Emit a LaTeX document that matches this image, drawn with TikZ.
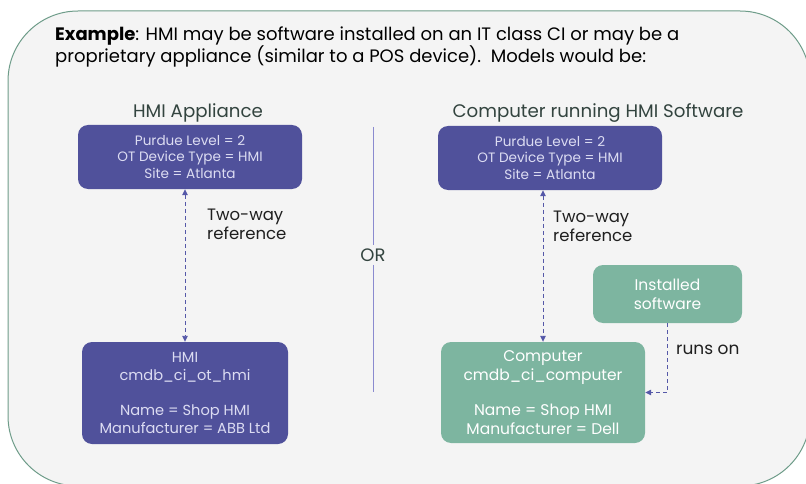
\documentclass[tikz,border=0pt]{standalone}
\usepackage{fontspec}
\setmainfont{Poppins}
\usetikzlibrary{positioning,arrows.meta}
\definecolor{frameline}{HTML}{6E9C89}
\definecolor{framefill}{HTML}{F4F4F4}
\definecolor{otpurple}{HTML}{50519B}
\definecolor{itgreen}{HTML}{7DB5A0}
\definecolor{otlabel}{HTML}{DCDCF2}
\definecolor{headgray}{HTML}{33443F}
\definecolor{linkblue}{HTML}{5558A8}
\definecolor{orline}{HTML}{8A8ACF}

\begin{document}
\begin{tikzpicture}[x=1pt,y=-1pt,
  otbox/.style={rounded corners=10pt,fill=otpurple,text=otlabel,align=center,inner sep=0pt},
  itbox/.style={rounded corners=10pt,fill=itgreen,text=white,align=center,inner sep=0pt},
  heading/.style={text=headgray,font=\fontsize{18.2}{21}\selectfont},
  note/.style={text=black!88,align=left,font=\fontsize{16.5}{19}\selectfont,inner sep=0pt},
  link/.style={linkblue,line width=0.9pt,dash pattern=on 4pt off 3pt,-{Triangle[length=6pt,width=5.5pt]}}]
  \useasboundingbox (0,0) rectangle (806,484);
  \begin{scope}
    \clip (0,0) rectangle (806,484);
    \draw[frameline,fill=framefill,line width=1pt,rounded corners=70pt] (8,11) rectangle (810,486);
  \end{scope}

  % intro text
  \node[anchor=north west,align=left,inner sep=0pt,font=\fontsize{18}{22}\selectfont] (intro) at (55,27)
    {\textbf{Example}: HMI may be software installed on an IT class CI or may be a\\
     proprietary appliance (similar to a POS device).\ \ Models would be:};

  % appliance model
  \node[heading] (hdA) at (198,113) {HMI Appliance};
  \node[otbox,minimum width=224pt,minimum height=64pt,font=\fontsize{13.6}{16.5}\selectfont] (attrA) at (190,157)
    {Purdue Level = 2\\OT Device Type = HMI\\Site = Atlanta};
  \node[otbox,minimum width=206pt,minimum height=102pt,font=\fontsize{14.6}{18.5}\selectfont] (hmi) at (185,393)
    {HMI\\cmdb\_ci\_ot\_hmi\\[16pt]Name = Shop HMI\\Manufacturer = ABB Ltd};
  \draw[link,{Triangle[length=6pt,width=5.5pt]}-{Triangle[length=6pt,width=5.5pt]}] (attrA.south -| hmi.north) -- (hmi.north);
  \node[note,anchor=west] (refA) at (207,224) {Two-way\\reference};

  % separator
  \node[heading,font=\fontsize{18}{20}\selectfont] (or) at (373,255) {OR};
  \draw[orline,line width=0.8pt] (373,127) -- (or.north);
  \draw[orline,line width=0.8pt] (or.south) -- (373,392);

  % computer model
  \node[heading] (hdB) at (598,113) {Computer running HMI Software};
  \node[otbox,minimum width=224pt,minimum height=64pt,font=\fontsize{13.6}{16.5}\selectfont] (attrB) at (550,158)
    {Purdue Level = 2\\OT Device Type = HMI\\Site = Atlanta};
  \node[itbox,minimum width=204pt,minimum height=101pt,font=\fontsize{15.5}{19}\selectfont] (comp) at (543,392.5)
    {Computer\\cmdb\_ci\_computer\\[16pt]Name = Shop HMI\\Manufacturer = Dell};
  \node[itbox,minimum width=149pt,minimum height=58pt,font=\fontsize{15.5}{19}\selectfont] (soft) at (667.5,294)
    {Installed\\software};
  \draw[link,{Triangle[length=6pt,width=5.5pt]}-{Triangle[length=6pt,width=5.5pt]}] (attrB.south -| comp.north) -- (comp.north);
  \node[note,anchor=west] (refB) at (553,226) {Two-way\\reference};
  \draw[link] (soft.south) |- (comp.east);
  \node[note,anchor=west,font=\fontsize{17}{19}\selectfont] (runs) at (676,350) {runs on};
\end{tikzpicture}
\end{document}
